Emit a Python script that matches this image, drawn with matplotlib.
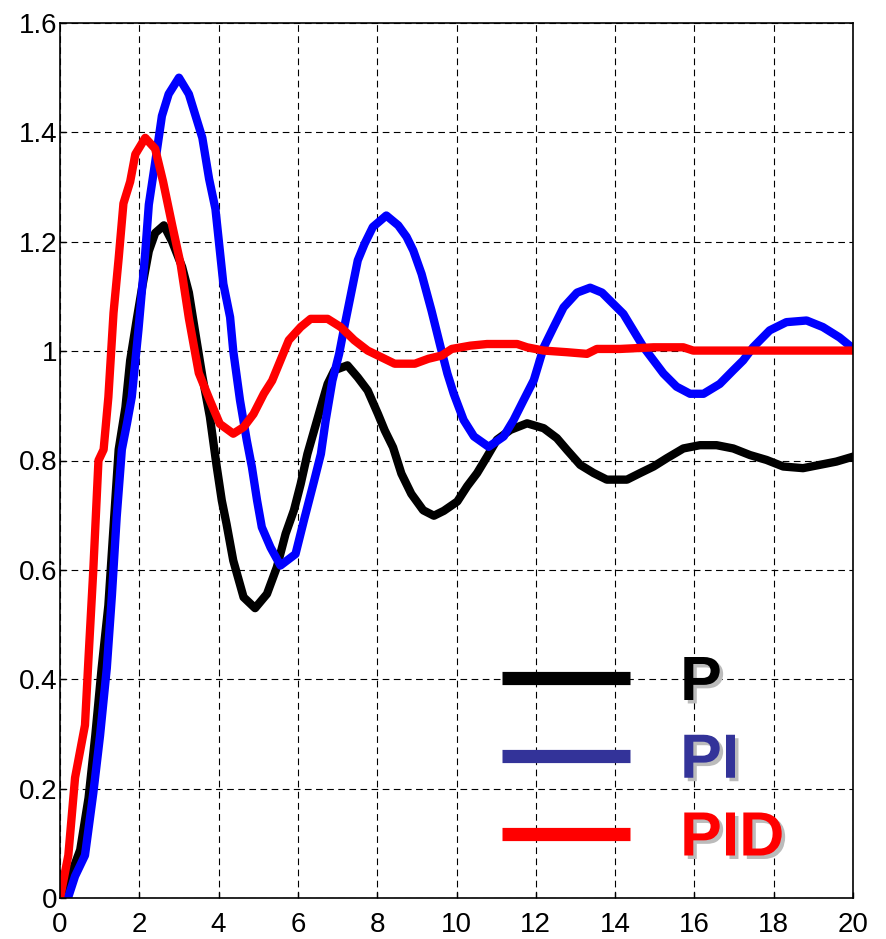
import matplotlib
matplotlib.use('Agg')
import matplotlib.pyplot as plt
import matplotlib.patheffects as pe
from matplotlib.lines import Line2D

plt.rcParams['font.family'] = ['Liberation Sans', 'DejaVu Sans']

# Step responses (time, output)
t_p = [0, 0.21, 0.51, 0.72, 0.89, 1.05, 1.22, 1.35, 1.48, 1.65, 1.77, 1.94, 2.07, 2.24, 2.4,
       2.62, 2.83, 3.08, 3.25, 3.42, 3.59, 3.78, 3.95, 4.08, 4.2, 4.37, 4.63, 4.92, 5.22, 5.47,
       5.69, 5.9, 6.07, 6.24, 6.41, 6.58, 6.75, 6.92, 7.25, 7.51, 7.76, 8.02, 8.19, 8.4, 8.61,
       8.86, 9.16, 9.43, 9.68, 10.02, 10.27, 10.52, 10.77, 11.02, 11.36, 11.78, 12.2, 12.53,
       12.79, 13.12, 13.46, 13.79, 14.3, 14.63, 14.97, 15.3, 15.72, 16.14, 16.56, 16.98, 17.4,
       17.82, 18.24, 18.74, 19.16, 19.58, 20]
y_p = [0, 0.03, 0.088, 0.183, 0.297, 0.42, 0.535, 0.678, 0.82, 0.897, 0.983, 1.06, 1.116, 1.183,
       1.216, 1.23, 1.2, 1.154, 1.107, 1.03, 0.954, 0.88, 0.79, 0.727, 0.684, 0.617, 0.55, 0.53,
       0.556, 0.605, 0.666, 0.709, 0.757, 0.812, 0.855, 0.898, 0.94, 0.965, 0.974, 0.952, 0.928,
       0.885, 0.855, 0.824, 0.776, 0.739, 0.709, 0.699, 0.708, 0.725, 0.753, 0.777, 0.807, 0.838,
       0.856, 0.868, 0.859, 0.841, 0.819, 0.792, 0.777, 0.765, 0.765, 0.777, 0.789, 0.804, 0.822,
       0.828, 0.828, 0.822, 0.81, 0.801, 0.789, 0.786, 0.792, 0.798, 0.807]

t_pi = [0, 0.21, 0.38, 0.63, 0.84, 1.01, 1.18, 1.31, 1.43, 1.56, 1.69, 1.81, 1.98, 2.15, 2.24,
        2.4, 2.57, 2.74, 3.0, 3.25, 3.42, 3.59, 3.76, 3.92, 4.12, 4.29, 4.37, 4.54, 4.71, 4.84,
        4.97, 5.09, 5.31, 5.56, 5.94, 6.15, 6.41, 6.58, 6.7, 6.87, 7.04, 7.17, 7.34, 7.51, 7.68,
        7.89, 8.23, 8.53, 8.74, 8.91, 9.12, 9.37, 9.6, 9.77, 9.93, 10.18, 10.44, 10.81, 11.19,
        11.44, 11.69, 11.95, 12.2, 12.45, 12.7, 13.04, 13.37, 13.67, 13.96, 14.21, 14.46, 14.72,
        14.97, 15.22, 15.55, 15.89, 16.23, 16.64, 16.98, 17.23, 17.48, 17.9, 18.32, 18.83, 19.24,
        19.66, 20]
y_pi = [0, 0.002, 0.04, 0.078, 0.192, 0.297, 0.42, 0.554, 0.697, 0.82, 0.868, 0.916, 1.04, 1.18,
        1.268, 1.345, 1.43, 1.47, 1.5, 1.47, 1.43, 1.39, 1.315, 1.26, 1.123, 1.062, 1.0, 0.91,
        0.837, 0.788, 0.727, 0.678, 0.641, 0.608, 0.629, 0.69, 0.763, 0.812, 0.873, 0.946, 0.995,
        1.044, 1.105, 1.166, 1.196, 1.227, 1.248, 1.23, 1.209, 1.184, 1.141, 1.074, 1.007, 0.959,
        0.922, 0.874, 0.844, 0.825, 0.844, 0.874, 0.91, 0.947, 1.007, 1.044, 1.08, 1.107, 1.116,
        1.107, 1.086, 1.068, 1.038, 1.007, 0.983, 0.959, 0.935, 0.922, 0.922, 0.94, 0.965, 0.983,
        1.007, 1.038, 1.053, 1.056, 1.044, 1.025, 1.005]

t_pid = [0, 0.21, 0.38, 0.63, 0.72, 0.84, 0.97, 1.1, 1.22, 1.35, 1.48, 1.6, 1.77, 1.9, 2.15,
         2.4, 2.6, 2.83, 3.04, 3.25, 3.5, 3.78, 4.03, 4.37, 4.63, 4.88, 5.14, 5.35, 5.56, 5.77,
         6.07, 6.32, 6.75, 7.08, 7.42, 7.76, 8.1, 8.44, 8.95, 9.29, 9.63, 9.88, 10.35, 10.77,
         11.53, 11.78, 12.2, 12.79, 13.29, 13.54, 14.13, 14.97, 15.72, 15.97, 16.64, 20]
y_pid = [0, 0.078, 0.22, 0.316, 0.44, 0.6, 0.8, 0.82, 0.916, 1.07, 1.17, 1.27, 1.31, 1.36, 1.39,
         1.37, 1.31, 1.23, 1.16, 1.06, 0.96, 0.91, 0.867, 0.849, 0.861, 0.885, 0.922, 0.946, 0.983,
         1.02, 1.044, 1.059, 1.059, 1.044, 1.02, 1.001, 0.989, 0.977, 0.977, 0.986, 0.992, 1.004,
         1.01, 1.013, 1.013, 1.007, 1.001, 0.998, 0.995, 1.004, 1.004, 1.007, 1.007, 1.001, 1.001,
         1.001]

labels = ['P', 'PI', 'PID']
legend_colors = ['black', '#333399', 'red']

x_ticks = list(range(0, 21, 2))
y_ticks = [0, 0.2, 0.4, 0.6, 0.8, 1.0, 1.2, 1.4, 1.6]
y_tick_labels = ['0', '0.2', '0.4', '0.6', '0.8', '1', '1.2', '1.4', '1.6']

fig = plt.figure(figsize=(8.86, 9.39), dpi=100)
ax = fig.add_axes([60 / 886, 41 / 939, 793 / 886, 875 / 939])

lw = 6
ax.plot(t_p, y_p, color='black', lw=lw, solid_joinstyle='round')
ax.plot(t_pi, y_pi, color='blue', lw=lw, solid_joinstyle='round')
ax.plot(t_pid, y_pid, color='red', lw=lw, solid_joinstyle='round')

ax.set_xlim(0, 20)
ax.set_ylim(0, 1.6)
ax.set_xticks(x_ticks)
ax.set_yticks(y_ticks)
ax.set_yticklabels(y_tick_labels)
ax.tick_params(direction='in', length=4, width=1, labelsize=20, colors='black')
ax.tick_params(axis='x', pad=10)
ax.tick_params(axis='y', pad=2)
ax.grid(True, color='black', lw=0.8, linestyle=(0, (6, 4)))
for s in ax.spines.values():
    s.set_linewidth(1.2)

# legend keys use their own colours
handles = [Line2D([], [], color=c, lw=9.5, solid_capstyle='butt') for c in legend_colors]
leg = ax.legend(handles, labels, loc='upper left', bbox_to_anchor=(442 / 793, 244 / 875),
                frameon=False, prop={'weight': 'bold', 'size': 45},
                handlelength=2.05, handletextpad=0.8, labelspacing=0.3,
                borderpad=0, borderaxespad=0)
for txt, c in zip(leg.get_texts(), legend_colors):
    txt.set_color(c)
    txt.set_path_effects([pe.SimplePatchShadow(offset=(2.5, -2.5), shadow_rgbFace='#bbbbbb', alpha=1),
                          pe.Normal()])

fig.savefig('out.png', dpi=100)
